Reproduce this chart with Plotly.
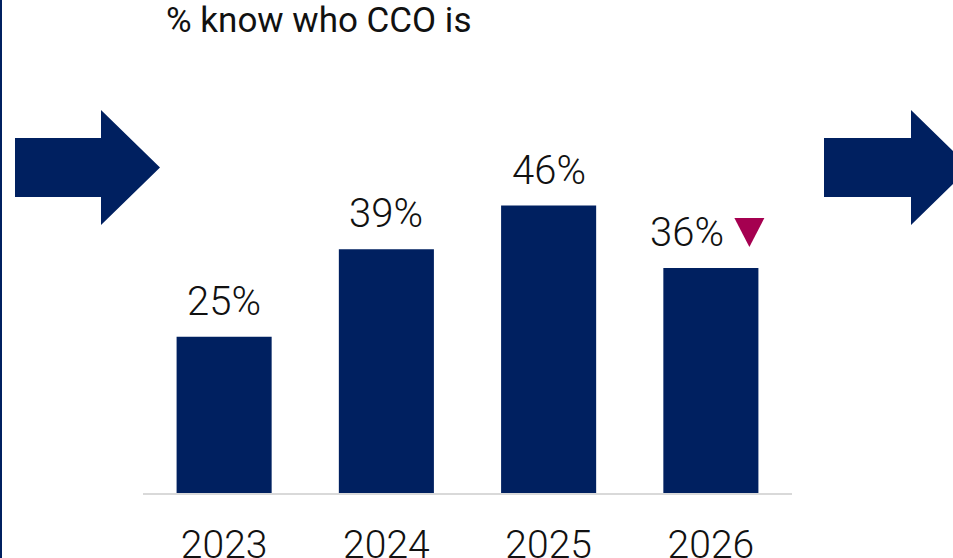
import plotly.graph_objects as go

# Share of respondents who know who the CCO is, by survey year
years = ["2023", "2024", "2025", "2026"]
pct_know_cco = [25, 39, 46, 36]
# Significant decline versus the previous year
sig_down = [False, False, False, True]

NAVY = "#002060"
CRIMSON = "#A50050"
TEXT = "#111111"
FONT = "Roboto"

W, H = 953, 558
L, R, T, B = 143, 161, 118, 65
PW, PH = W - L - R, H - T - B


def px(x, y):
    """Convert page pixel coordinates to paper coordinates."""
    return (x - L) / PW, (H - B - y) / PH


def arrow_path(x0, shaft_end, tip, y_mid, shaft_half, head_half):
    pts = [
        (x0, y_mid - shaft_half), (shaft_end, y_mid - shaft_half),
        (shaft_end, y_mid - head_half), (tip, y_mid),
        (shaft_end, y_mid + head_half), (shaft_end, y_mid + shaft_half),
        (x0, y_mid + shaft_half),
    ]
    conv = [px(a, b) for a, b in pts]
    return "M" + " L".join(f"{a:.5f},{b:.5f}" for a, b in conv) + " Z"


fig = go.Figure(
    go.Bar(
        x=years,
        y=pct_know_cco,
        marker=dict(color=NAVY, line=dict(width=0)),
        width=0.586,
        hoverinfo="skip",
    )
)

# Value labels above the bars
for i, (v, down) in enumerate(zip(pct_know_cco, sig_down)):
    fig.add_annotation(
        x=i, y=v, text=f"{v}%", showarrow=False,
        xref="x", yref="y",
        yanchor="bottom", yshift=10,
        xshift=-24 if down else 0,
        font=dict(family=FONT, size=40, color=TEXT, weight=300),
    )
    if down:
        # downward marker beside the label
        fig.add_shape(
            type="path", xref="x", yref="y",
            xsizemode="pixel", ysizemode="pixel",
            xanchor=i, yanchor=v,
            path="M23.5,50 L53.5,50 L38.5,21 Z",
            fillcolor=CRIMSON, line=dict(width=0),
        )

shapes = [
    # navy edge at the left of the slide
    dict(type="rect", xref="paper", yref="paper",
         x0=px(0, 0)[0], x1=px(2, 0)[0], y0=px(0, H)[1], y1=px(0, 0)[1],
         fillcolor=NAVY, line=dict(width=0), layer="below"),
    # flow arrows either side of the chart
    dict(type="path", xref="paper", yref="paper",
         path=arrow_path(15, 101, 160, 167.5, 29.5, 57.5),
         fillcolor=NAVY, line=dict(width=0)),
    dict(type="path", xref="paper", yref="paper",
         path=arrow_path(824, 911, 970, 167.5, 29.5, 57.5),
         fillcolor=NAVY, line=dict(width=0)),
]
for s in shapes:
    fig.add_shape(**s)

fig.update_layout(
    width=W, height=H,
    margin=dict(l=L, r=R, t=T, b=B, pad=0, autoexpand=False),
    paper_bgcolor="white", plot_bgcolor="white",
    showlegend=False,
    bargap=0.414,
    title=dict(
        text="% know who CCO is",
        xref="container", yref="container",
        x=166 / W, xanchor="left",
        y=1 - 7 / H, yanchor="top",
        font=dict(family=FONT, size=35, color=TEXT, weight=400),
        pad=dict(t=0, b=0, l=0, r=0),
    ),
    xaxis=dict(
        type="category",
        categoryorder="array", categoryarray=years,
        range=[-0.5, len(years) - 0.5],
        automargin=False,
        showline=True, linecolor="#D9D9D9", linewidth=2,
        showgrid=False, zeroline=False, ticks="",
        ticklabelstandoff=16,
        tickfont=dict(family=FONT, size=39, color=TEXT, weight=300),
        fixedrange=True,
    ),
    yaxis=dict(
        range=[0, 60], visible=False, showgrid=False, zeroline=False,
        automargin=False, fixedrange=True,
    ),
)

fig.write_html("out.html")
